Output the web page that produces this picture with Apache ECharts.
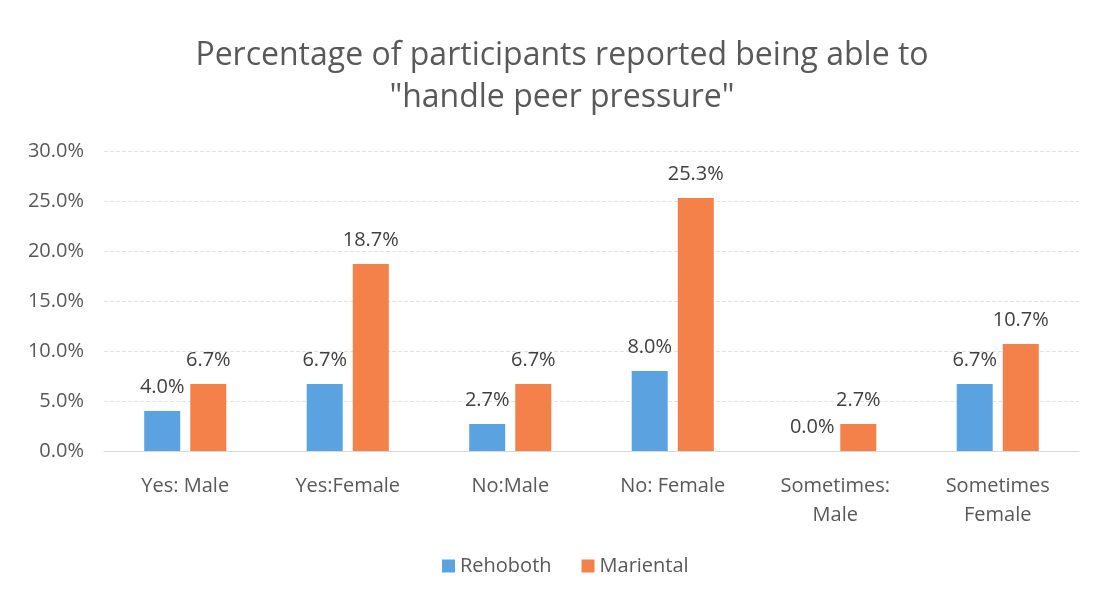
<!DOCTYPE html>
<html><head><meta charset="utf-8">
<script src="https://cdn.jsdelivr.net/npm/echarts@6/dist/echarts.min.js"></script>
<style>html,body{margin:0;padding:0;background:#fff}#c{width:1097px;height:600px}</style>
</head><body><div id="c"></div>
<script>
const categories = ['Yes: Male', 'Yes:Female', 'No:Male', 'No: Female', 'Sometimes:\nMale', 'Sometimes\nFemale'];
const rehoboth = [4.0, 6.7, 2.7, 8.0, 0.0, 6.7];
const mariental = [6.7, 18.7, 6.7, 25.3, 2.7, 10.7];
const seriesNames = ['Rehoboth', 'Mariental'];
const titleText = 'Percentage of participants reported being able to\n"handle peer pressure"';

const FONT = 'Open Sans';
const chart = echarts.init(document.getElementById('c'), null, {renderer: 'canvas'});
const labelStyle = {
  show: true, position: 'top', distance: 14,
  formatter: p => p.value.toFixed(1) + '%',
  fontFamily: FONT, fontSize: 20, color: '#404040'
};
chart.setOption({
  backgroundColor: '#fff',
  animation: false,
  title: {
    text: titleText, left: 557, top: 30, textAlign: 'center',
    textStyle: {fontFamily: FONT, fontSize: 32, fontWeight: 'normal', color: '#595959', lineHeight: 42, align: 'center'}
  },
  legend: {
    bottom: 19, left: 437, itemWidth: 13, itemHeight: 13, itemGap: 30,
    icon: 'rect',
    textStyle: {fontFamily: FONT, fontSize: 20, color: '#595959'},
    data: seriesNames
  },
  grid: {left: 104, right: 18, top: 151, bottom: 149, containLabel: false},
  xAxis: {
    type: 'category', data: categories,
    axisLine: {lineStyle: {color: '#d9d9d9'}},
    axisTick: {show: false},
    axisLabel: {fontFamily: FONT, fontSize: 20, color: '#595959', margin: 21, lineHeight: 29, interval: 0}
  },
  yAxis: {
    type: 'value', min: 0, max: 30, interval: 5,
    axisLine: {show: false}, axisTick: {show: false},
    splitLine: {lineStyle: {color: '#e3e3e3', type: 'dashed'}},
    axisLabel: {fontFamily: FONT, fontSize: 20, color: '#595959', margin: 20,
      formatter: v => v.toFixed(1) + '%'}
  },
  series: [
    {name: seriesNames[0], type: 'bar', data: rehoboth, barWidth: 36, barGap: '28%',
     itemStyle: {color: '#5aa3e0'}, label: labelStyle},
    {name: seriesNames[1], type: 'bar', data: mariental, barWidth: 36, barGap: '28%',
     itemStyle: {color: '#f4804a'}, label: labelStyle}
  ]
});
</script></body></html>
